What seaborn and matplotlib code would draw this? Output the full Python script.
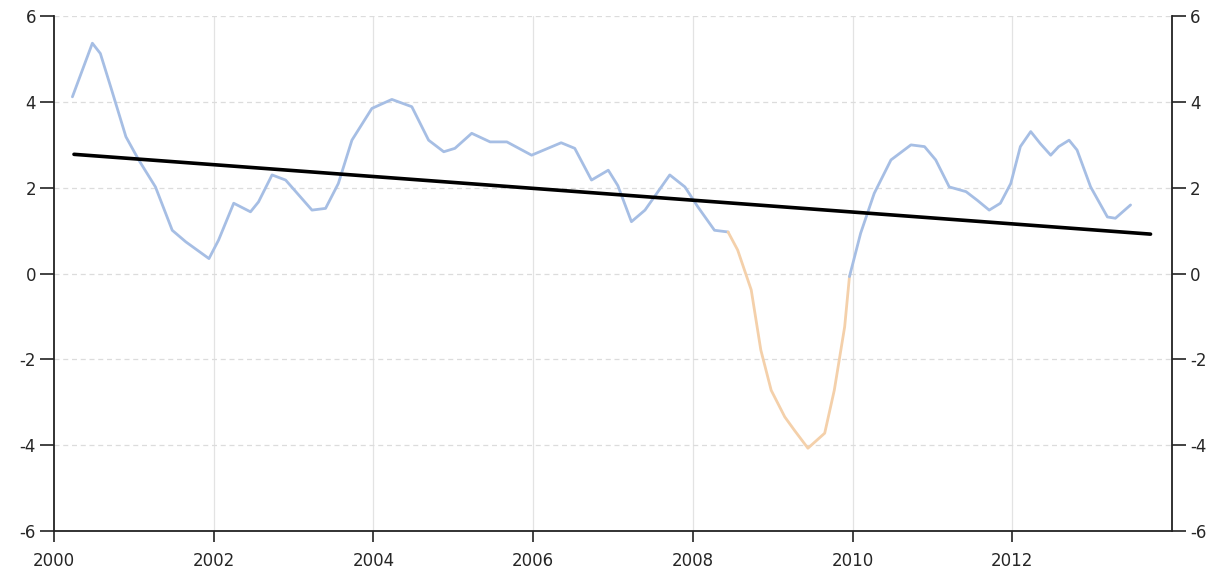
import numpy as np
import pandas as pd
import matplotlib
matplotlib.use("Agg")
import matplotlib.pyplot as plt
import seaborn as sns

# values (year, value)
years_before = [2000.23, 2000.48, 2000.58, 2000.71, 2000.90, 2001.06, 2001.27, 2001.48,
                2001.65, 2001.94, 2002.06, 2002.25, 2002.46, 2002.56, 2002.73, 2002.90,
                2003.23, 2003.40, 2003.56, 2003.73, 2003.98, 2004.23, 2004.48, 2004.69,
                2004.88, 2005.02, 2005.23, 2005.46, 2005.67, 2005.98, 2006.35, 2006.52,
                2006.73, 2006.94, 2007.06, 2007.23, 2007.40, 2007.71, 2007.90, 2008.06,
                2008.27, 2008.44]
values_before = [4.12, 5.37, 5.13, 4.35, 3.19, 2.65, 2.02, 1.01,
                 0.74, 0.35, 0.78, 1.64, 1.44, 1.67, 2.30, 2.18,
                 1.48, 1.52, 2.10, 3.11, 3.85, 4.06, 3.89, 3.11,
                 2.84, 2.92, 3.27, 3.07, 3.07, 2.76, 3.05, 2.92,
                 2.18, 2.41, 2.05, 1.21, 1.48, 2.30, 2.02, 1.56,
                 1.01, 0.97]

years_dip = [2008.44, 2008.56, 2008.73, 2008.85, 2008.98, 2009.15, 2009.27, 2009.44,
             2009.65, 2009.77, 2009.90, 2009.96]
values_dip = [0.97, 0.55, -0.38, -1.78, -2.72, -3.34, -3.65, -4.07,
              -3.72, -2.72, -1.24, -0.07]

years_after = [2009.96, 2010.10, 2010.27, 2010.48, 2010.73, 2010.90, 2011.04, 2011.21,
               2011.42, 2011.56, 2011.71, 2011.85, 2011.98, 2012.10, 2012.23, 2012.35,
               2012.48, 2012.58, 2012.71, 2012.81, 2012.98, 2013.19, 2013.29, 2013.48]
values_after = [-0.07, 0.94, 1.87, 2.65, 3.00, 2.96, 2.65, 2.02,
                1.91, 1.71, 1.48, 1.64, 2.10, 2.96, 3.31, 3.03,
                2.76, 2.96, 3.11, 2.88, 2.02, 1.32, 1.29, 1.60]

trend_years = [2000.25, 2013.73]
trend_values = [2.78, 0.92]

x_ticks = [2000, 2002, 2004, 2006, 2008, 2010, 2012]
y_ticks = [-6, -4, -2, 0, 2, 4, 6]

BLUE = "#a6bee4"
ORANGE = "#f4d0aa"

sns.set_theme(style="white")
plt.rcParams["font.family"] = ["DejaVu Sans"]

fig = plt.figure(figsize=(12.17, 5.78), dpi=100)
ax = fig.add_axes([0.0444, 0.0813, 0.9187, 0.8907])

# grid
for x in x_ticks[1:]:
    ax.axvline(x, color="#e3e3e3", lw=0.9, zorder=0)
for y in y_ticks[1:]:
    ax.axhline(y, color="#dcdcdc", lw=0.9, ls=(0, (4, 3)), zorder=0)

sns.lineplot(x=years_before, y=values_before, ax=ax, color=BLUE, lw=2.0,
             sort=False, estimator=None)
sns.lineplot(x=years_dip, y=values_dip, ax=ax, color=ORANGE, lw=2.0,
             sort=False, estimator=None)
sns.lineplot(x=years_after, y=values_after, ax=ax, color=BLUE, lw=2.0,
             sort=False, estimator=None)
sns.lineplot(x=trend_years, y=trend_values, ax=ax, color="black", lw=2.6,
             sort=False, estimator=None)

ax.set_xlim(2000, 2014)
ax.set_ylim(-6, 6)
ax.set_xticks(x_ticks)
ax.set_xticklabels([str(t) for t in x_ticks])
ax.set_yticks(y_ticks)
ax.set_yticklabels([str(t) for t in y_ticks])

ax2 = ax.twinx()
ax2.set_ylim(-6, 6)
ax2.set_yticks(y_ticks)
ax2.set_yticklabels([str(t) for t in y_ticks])

for a in (ax, ax2):
    a.spines["top"].set_visible(False)
    for s in ("left", "right", "bottom"):
        a.spines[s].set_color("#222222")
        a.spines[s].set_linewidth(1.3)
ax.spines["right"].set_visible(False)
ax2.spines["left"].set_visible(False)
ax2.spines["bottom"].set_visible(False)

ax.tick_params(axis="x", direction="out", length=8, width=1.2, color="#222222",
               labelsize=12, pad=7, bottom=True)
ax.tick_params(axis="y", direction="out", length=10, width=1.2, color="#222222",
               labelsize=12, pad=3, left=True)
ax2.tick_params(axis="y", direction="out", length=10, width=1.2, color="#222222",
                labelsize=12, pad=3, right=True)
ax.set_xlabel("")
ax.set_ylabel("")
ax2.set_ylabel("")
ax.grid(False)
ax2.grid(False)

fig.savefig("out.png", dpi=100, facecolor="white")
